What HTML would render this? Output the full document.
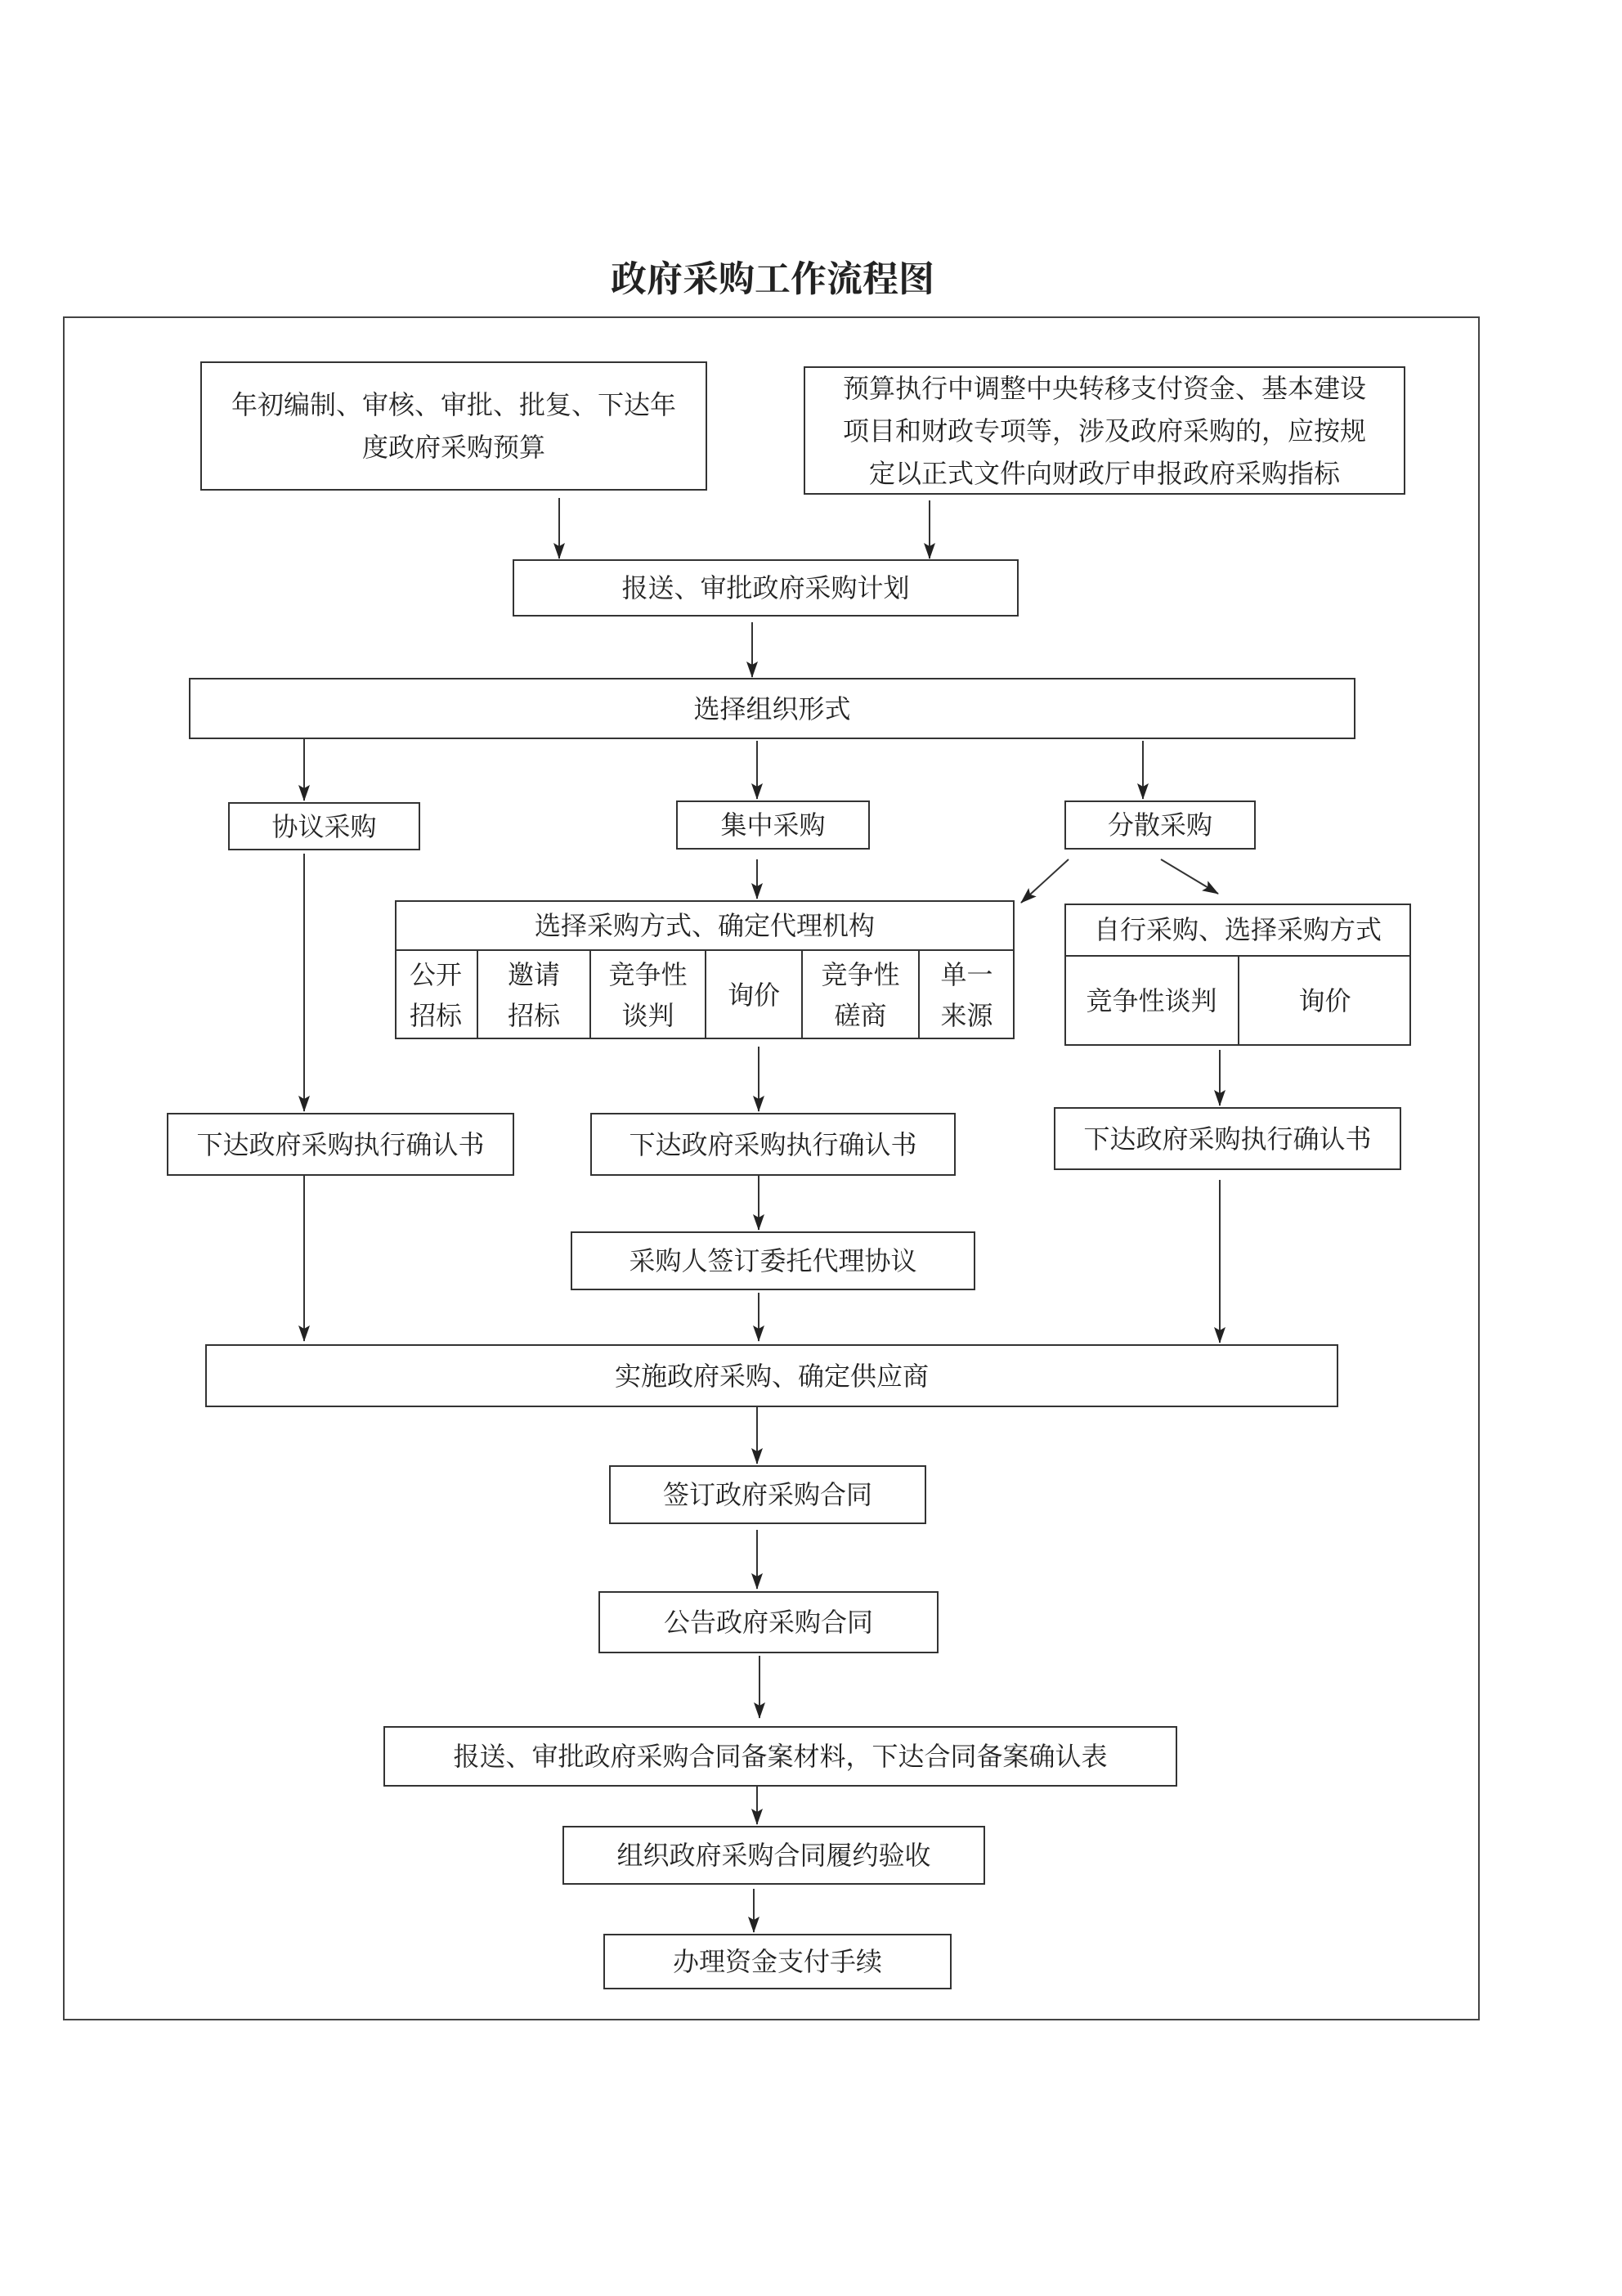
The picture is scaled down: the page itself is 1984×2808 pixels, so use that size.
<!DOCTYPE html>
<html><head><meta charset="utf-8"><style>
body{margin:0;background:#fff;}
#c{position:relative;width:1984px;height:2808px;overflow:hidden;font-family:"Liberation Serif","Noto Serif CJK SC",serif;color:#222;}
.b{position:absolute;border:2px solid #333;box-sizing:border-box;display:flex;align-items:center;justify-content:center;text-align:center;font-size:32px;line-height:52px;}
.t{position:absolute;font-size:32px;text-align:center;display:flex;align-items:center;justify-content:center;line-height:50px;}
svg{position:absolute;left:0;top:0;}
</style></head><body><div id="c">
<div style="position:absolute;left:0;width:1890px;top:305px;text-align:center;font-size:44px;font-weight:bold;font-family:'Noto Serif CJK SC',serif;">政府采购工作流程图</div>
<div style="position:absolute;left:77px;top:387px;width:1733px;height:2084px;border:2px solid #444;box-sizing:border-box;"></div>

<div class="b" style="left:245px;top:442px;width:620px;height:158px;padding:0 10px;">年初编制、审核、审批、批复、下达年<br>度政府采购预算</div>
<div class="b" style="left:983px;top:448px;width:736px;height:157px;padding:0 8px;">预算执行中调整中央转移支付资金、基本建设<br>项目和财政专项等，涉及政府采购的，应按规<br>定以正式文件向财政厅申报政府采购指标</div>
<div class="b" style="left:627px;top:684px;width:619px;height:70px;">报送、审批政府采购计划</div>
<div class="b" style="left:231px;top:829px;width:1427px;height:75px;">选择组织形式</div>
<div class="b" style="left:279px;top:981px;width:235px;height:59px;">协议采购</div>
<div class="b" style="left:827px;top:979px;width:237px;height:60px;">集中采购</div>
<div class="b" style="left:1302px;top:979px;width:234px;height:60px;">分散采购</div>

<div class="b" style="left:483px;top:1101px;width:758px;height:170px;"></div>
<div class="t" style="left:483px;top:1101px;width:758px;height:61px;">选择采购方式、确定代理机构</div>
<div style="position:absolute;left:483px;top:1161px;width:758px;height:2px;background:#333;"></div>
<div style="position:absolute;left:583px;top:1162px;width:2px;height:109px;background:#333;"></div>
<div style="position:absolute;left:721px;top:1162px;width:2px;height:109px;background:#333;"></div>
<div style="position:absolute;left:862px;top:1162px;width:2px;height:109px;background:#333;"></div>
<div style="position:absolute;left:980px;top:1162px;width:2px;height:109px;background:#333;"></div>
<div style="position:absolute;left:1123px;top:1162px;width:2px;height:109px;background:#333;"></div>
<div class="t" style="left:483px;top:1162px;width:100px;height:109px;">公开<br>招标</div>
<div class="t" style="left:584px;top:1162px;width:138px;height:109px;">邀请<br>招标</div>
<div class="t" style="left:722px;top:1162px;width:141px;height:109px;">竞争性<br>谈判</div>
<div class="t" style="left:863px;top:1162px;width:118px;height:109px;">询价</div>
<div class="t" style="left:981px;top:1162px;width:143px;height:109px;">竞争性<br>磋商</div>
<div class="t" style="left:1124px;top:1162px;width:117px;height:109px;">单一<br>来源</div>

<div class="b" style="left:1302px;top:1105px;width:424px;height:174px;"></div>
<div class="t" style="left:1302px;top:1105px;width:424px;height:64px;">自行采购、选择采购方式</div>
<div style="position:absolute;left:1302px;top:1168px;width:424px;height:2px;background:#333;"></div>
<div style="position:absolute;left:1514px;top:1169px;width:2px;height:110px;background:#333;"></div>
<div class="t" style="left:1302px;top:1169px;width:213px;height:110px;">竞争性谈判</div>
<div class="t" style="left:1515px;top:1169px;width:211px;height:110px;">询价</div>

<div class="b" style="left:204px;top:1361px;width:425px;height:77px;">下达政府采购执行确认书</div>
<div class="b" style="left:722px;top:1361px;width:447px;height:77px;">下达政府采购执行确认书</div>
<div class="b" style="left:1289px;top:1354px;width:425px;height:77px;">下达政府采购执行确认书</div>
<div class="b" style="left:698px;top:1506px;width:495px;height:72px;">采购人签订委托代理协议</div>
<div class="b" style="left:251px;top:1644px;width:1386px;height:77px;">实施政府采购、确定供应商</div>
<div class="b" style="left:745px;top:1792px;width:388px;height:72px;">签订政府采购合同</div>
<div class="b" style="left:732px;top:1946px;width:416px;height:76px;">公告政府采购合同</div>
<div class="b" style="left:469px;top:2111px;width:971px;height:74px;">报送、审批政府采购合同备案材料，下达合同备案确认表</div>
<div class="b" style="left:688px;top:2233px;width:517px;height:72px;">组织政府采购合同履约验收</div>
<div class="b" style="left:738px;top:2365px;width:426px;height:68px;">办理资金支付手续</div>

<svg width="1984" height="2808">
<defs><marker id="m" markerWidth="20" markerHeight="16" refX="19" refY="8" orient="auto" markerUnits="userSpaceOnUse"><path d="M0,1 L20,8 L0,15 L4,8 z" fill="#222"/></marker></defs>
<g stroke="#333" stroke-width="2" fill="none" marker-end="url(#m)">
<line x1="684" y1="609" x2="684" y2="683"/>
<line x1="1137" y1="612" x2="1137" y2="683"/>
<line x1="920" y1="761" x2="920" y2="828"/>
<line x1="372" y1="904" x2="372" y2="979"/>
<line x1="926" y1="906" x2="926" y2="977"/>
<line x1="1398" y1="906" x2="1398" y2="977"/>
<line x1="1307" y1="1051" x2="1249" y2="1104"/>
<line x1="1420" y1="1051" x2="1490" y2="1093"/>
<line x1="926" y1="1051" x2="926" y2="1099"/>
<line x1="372" y1="1044" x2="372" y2="1359"/>
<line x1="928" y1="1280" x2="928" y2="1359"/>
<line x1="1492" y1="1284" x2="1492" y2="1352"/>
<line x1="928" y1="1438" x2="928" y2="1504"/>
<line x1="372" y1="1438" x2="372" y2="1640"/>
<line x1="928" y1="1581" x2="928" y2="1640"/>
<line x1="1492" y1="1443" x2="1492" y2="1642"/>
<line x1="926" y1="1721" x2="926" y2="1790"/>
<line x1="926" y1="1871" x2="926" y2="1943"/>
<line x1="929" y1="2025" x2="929" y2="2101"/>
<line x1="926" y1="2185" x2="926" y2="2231"/>
<line x1="922" y1="2310" x2="922" y2="2363"/>
</g></svg>
</div></body></html>
